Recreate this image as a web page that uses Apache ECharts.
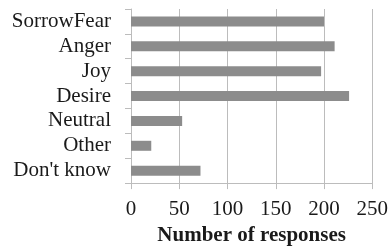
<!DOCTYPE html>
<html>
<head>
<meta charset="utf-8">
<script src="https://cdn.jsdelivr.net/npm/echarts@6/dist/echarts.min.js"></script>
<style>
  html, body { margin: 0; padding: 0; background: #fff; }
  #chart { width: 391px; height: 251px; }
</style>
</head>
<body>
<div id="chart"></div>
<script>
// categories top to bottom
const categories = ["SorrowFear", "Anger", "Joy", "Desire", "Neutral", "Other", "Don't know"];
const responses = [200, 211, 197, 226, 53, 21, 72];
const xTicks = [0, 50, 100, 150, 200, 250];

const lineColor = "#bcbcbc";
const font = "Liberation Serif";

const chart = echarts.init(document.getElementById("chart"));
chart.setOption({
  animation: false,
  grid: { left: 131, right: 16, top: 9, bottom: 59 },
  xAxis: {
    type: "value",
    min: xTicks[0],
    max: xTicks[xTicks.length - 1],
    interval: 50,
    name: "Number of responses",
    nameLocation: "middle",
    nameGap: 38,
    nameTextStyle: { fontFamily: font, fontSize: 21, fontWeight: "bold", color: "#1a1a1a" },
    axisLine: { show: true, lineStyle: { color: lineColor } },
    axisTick: { show: true, length: 6, lineStyle: { color: lineColor } },
    splitLine: { show: true, lineStyle: { color: lineColor } },
    axisLabel: { fontFamily: font, fontSize: 21, color: "#1a1a1a", margin: 16 }
  },
  yAxis: {
    type: "category",
    data: categories,
    inverse: true,
    axisLine: { show: true, lineStyle: { color: lineColor } },
    axisTick: { show: true, length: 6, lineStyle: { color: lineColor } },
    axisLabel: { fontFamily: font, fontSize: 21, color: "#1a1a1a", margin: 20, interval: 0 }
  },
  series: [{
    type: "bar",
    data: responses,
    barWidth: 10,
    itemStyle: { color: "#8c8c8c" }
  }]
});
</script>
</body>
</html>
